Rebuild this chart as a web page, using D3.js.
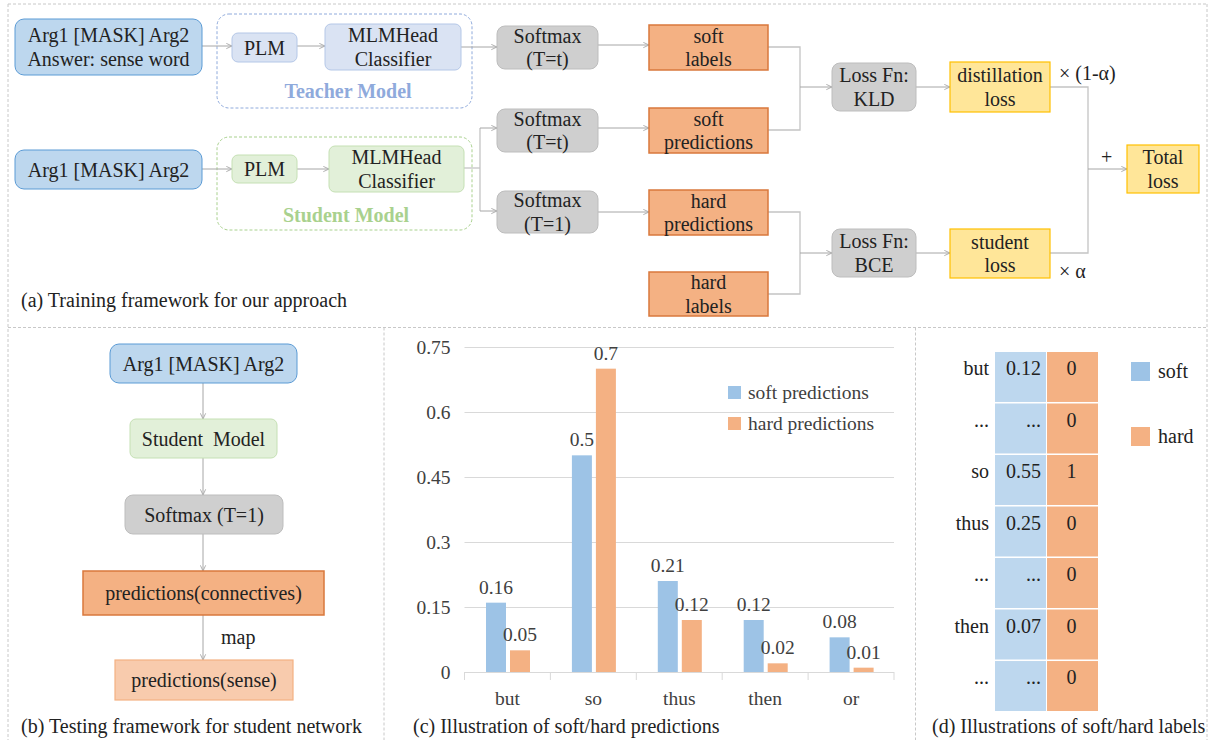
<!DOCTYPE html>
<html>
<head>
<meta charset="utf-8">
<script src="https://cdn.jsdelivr.net/npm/d3@7"></script>
<style>
  body { margin: 0; background: #fff; }
  svg { display: block; font-family: "Liberation Serif", "Times New Roman", serif; }
</style>
</head>
<body>
<svg id="fig"></svg>
<script>
// (c) bar chart data
const categories = ["but", "so", "thus", "then", "or"];
const softPred = [0.16, 0.5, 0.21, 0.12, 0.08];
const hardPred = [0.05, 0.7, 0.12, 0.02, 0.01];
const yTicks = [0, 0.15, 0.3, 0.45, 0.6, 0.75];
const seriesNames = ["soft predictions", "hard predictions"];

// (d) label table
const labelRows = ["but", "...", "so", "thus", "...", "then", "..."];
const softLabelVals = ["0.12", "...", "0.55", "0.25", "...", "0.07", "..."];
const hardLabelVals = ["0", "0", "1", "0", "0", "0", "0"];
const labelLegend = ["soft", "hard"];

// captions
const captions = [
  "(a) Training framework for our approach",
  "(b) Testing framework for student network",
  "(c) Illustration of soft/hard predictions",
  "(d) Illustrations of soft/hard labels"
];

const W = 1210, H = 740;
const txt = "#222";
const fs = 20;

const svg = d3.select("#fig").attr("width", W).attr("height", H);

// 矢印
svg.append("defs").append("marker")
    .attr("id", "arr")
    .attr("viewBox", "0 0 8 8")
    .attr("refX", 7.5).attr("refY", 4)
    .attr("markerWidth", 7).attr("markerHeight", 7)
    .attr("markerUnits", "userSpaceOnUse")
    .attr("orient", "auto")
  .append("path")
    .attr("d", "M1,1 L7.5,4 L1,7")
    .attr("fill", "none")
    .attr("stroke", "#a6a6a6");

// panel borders
const dash = "3,2";
const borders = [
  [8, 4, 1207, 4], [8, 4, 8, 740], [1207, 4, 1207, 740],
  [8, 327.5, 1207, 327.5], [384, 327.5, 384, 740], [915.5, 327.5, 915.5, 740]
];
svg.append("g").selectAll("line").data(borders).enter().append("line")
    .attr("x1", d => d[0]).attr("y1", d => d[1])
    .attr("x2", d => d[2]).attr("y2", d => d[3])
    .attr("stroke", "#c8c8c8").attr("stroke-dasharray", dash);

// box styles
const styles = {
  blue:   {fill: "#bdd7ee", stroke: "#5b9bd5", rx: 9, sw: 1},
  tblue:  {fill: "#dae3f3", stroke: "#b4c7e7", rx: 6, sw: 1},
  green:  {fill: "#e2f0d9", stroke: "#c5e0b4", rx: 6, sw: 1},
  gray:   {fill: "#cfcfcf", stroke: "#bdbdbd", rx: 8, sw: 1},
  orange: {fill: "#f4b183", stroke: "#d9783c", rx: 0, sw: 1.5},
  yellow: {fill: "#ffe699", stroke: "#ffc000", rx: 0, sw: 1.2},
  peach:  {fill: "#f8cbad", stroke: "#f4b183", rx: 0, sw: 1.2}
};

// diagram boxes: [style, x, y, w, h, lines]
const nodes = [
  ["blue", 15, 19, 187, 56, ["Arg1 [MASK] Arg2", "Answer: sense word"]],
  ["tblue", 232, 33, 65, 29, ["PLM"]],
  ["tblue", 325, 24, 136, 46, ["MLMHead", "Classifier"]],
  ["blue", 15, 150, 187, 39, ["Arg1 [MASK] Arg2"]],
  ["green", 232, 155, 65, 28, ["PLM"]],
  ["green", 329, 146, 135, 46, ["MLMHead", "Classifier"]],
  ["gray", 497, 26, 101, 43, ["Softmax", "(T=t)"]],
  ["gray", 497, 109, 101, 43, ["Softmax", "(T=t)"]],
  ["gray", 497, 191, 101, 42, ["Softmax", "(T=1)"]],
  ["orange", 649, 25, 119, 45, ["soft", "labels"]],
  ["orange", 649, 108, 119, 45, ["soft", "predictions"]],
  ["orange", 649, 190, 119, 45, ["hard", "predictions"]],
  ["orange", 649, 272, 119, 44, ["hard", "labels"]],
  ["gray", 832, 63, 84, 48, ["Loss Fn:", "KLD"]],
  ["gray", 832, 229, 84, 48, ["Loss Fn:", "BCE"]],
  ["yellow", 950, 62, 100, 50, ["distillation", "loss"]],
  ["yellow", 950, 229, 100, 49, ["student", "loss"]],
  ["yellow", 1127, 145, 72, 48, ["Total", "loss"]],
  // (b)
  ["blue", 110, 344, 187, 39, ["Arg1 [MASK] Arg2"]],
  ["green", 130, 419, 147, 39, ["Student  Model"]],
  ["gray", 125, 495, 158, 39, ["Softmax (T=1)"]],
  ["orange", 83, 571, 241, 44, ["predictions(connectives)"]],
  ["peach", 115, 660, 178, 40, ["predictions(sense)"]]
];

// dashed model frames
const frames = [
  [217, 14, 255, 94, "#8faadc", "Teacher Model", 348, 91],
  [217, 137, 255, 93, "#a9d18e", "Student Model", 346, 215]
];
const fr = svg.append("g");
frames.forEach(f => {
  fr.append("rect").attr("x", f[0]).attr("y", f[1]).attr("width", f[2]).attr("height", f[3])
    .attr("rx", 12).attr("fill", "none").attr("stroke", f[4]).attr("stroke-dasharray", "3,2");
  fr.append("text").attr("x", f[6]).attr("y", f[7]).attr("text-anchor", "middle")
    .attr("dominant-baseline", "central").attr("font-weight", "bold")
    .attr("font-size", fs).attr("fill", f[4]).text(f[5]);
});

// connector lines (no arrow) and arrows
const plainLines = [
  [[768, 47], [800, 47], [800, 130], [768, 130]],
  [[768, 212], [800, 212], [800, 294], [768, 294]],
  [[1050, 87], [1088, 87], [1088, 253], [1050, 253]],
  [[464, 168], [480, 168]],
  [[480, 128], [480, 211]]
];
const arrows = [
  [[202, 46], [232, 46]], [[297, 46], [325, 46]], [[461, 47], [497, 47]],
  [[598, 45], [649, 45]],
  [[202, 169], [232, 169]], [[297, 169], [329, 169]],
  [[480, 128], [497, 128]], [[480, 211], [497, 211]],
  [[598, 128], [649, 128]], [[598, 212], [649, 212]],
  [[800, 87], [832, 87]], [[800, 253], [832, 253]],
  [[916, 87], [950, 87]], [[916, 253], [950, 253]],
  [[1088, 169], [1127, 169]],
  [[203, 383], [203, 419]], [[203, 458], [203, 495]],
  [[203, 534], [203, 571]], [[203, 615], [203, 660]]
];
const line = d3.line();
svg.append("g").selectAll("path").data(plainLines).enter().append("path")
    .attr("d", line).attr("fill", "none").attr("stroke", "#c4c4c4").attr("stroke-width", 1.3);
svg.append("g").selectAll("path").data(arrows).enter().append("path")
    .attr("d", line).attr("fill", "none").attr("stroke", "#a6a6a6").attr("stroke-width", 1)
    .attr("marker-end", "url(#arr)");

// boxes
const bx = svg.append("g").selectAll("g").data(nodes).enter().append("g");
bx.append("rect")
    .attr("x", d => d[1]).attr("y", d => d[2])
    .attr("width", d => d[3]).attr("height", d => d[4])
    .attr("rx", d => styles[d[0]].rx)
    .attr("fill", d => styles[d[0]].fill)
    .attr("stroke", d => styles[d[0]].stroke)
    .attr("stroke-width", d => styles[d[0]].sw);
bx.each(function(d) {
  const cx = d[1] + d[3] / 2, cy = d[2] + d[4] / 2;
  const n = d[5].length;
  d[5].forEach((s, i) => {
    d3.select(this).append("text")
      .attr("x", cx).attr("y", cy + (i - (n - 1) / 2) * 23.5)
      .attr("text-anchor", "middle").attr("dominant-baseline", "central")
      .attr("font-size", fs).attr("fill", txt)
      .style("white-space", "pre")
      .text(s);
  });
});

// 係数ラベル
const notes = [["\u00d7 (1-\u03b1)", 1059, 73], ["+", 1101, 157], ["\u00d7 \u03b1", 1059, 271], ["map", 221, 637]];
svg.append("g").selectAll("text").data(notes).enter().append("text")
    .attr("x", d => d[1]).attr("y", d => d[2])
    .attr("dominant-baseline", "central")
    .attr("font-size", fs).attr("fill", txt)
    .text(d => d[0]);

// captions
const capPos = [[21, 300], [21, 726], [413, 726], [932, 726]];
svg.append("g").selectAll("text").data(captions).enter().append("text")
    .attr("x", (d, i) => capPos[i][0]).attr("y", (d, i) => capPos[i][1])
    .attr("dominant-baseline", "central")
    .attr("font-size", fs).attr("fill", txt)
    .text(d => d);

// ---- (c) 棒グラフ ----
const chartText = "#404040";
const x = d3.scaleBand().domain(categories).range([464.5, 894]);
const xs = d3.scaleBand().domain(seriesNames).range([21.5, 65.5]).paddingInner(4 / 24);
const y = d3.scaleLinear().domain([0, 0.75]).range([672, 347]);
const barColors = ["#9dc3e6", "#f4b183"];

const chart = svg.append("g");
const yAxis = chart.append("g").attr("transform", "translate(464.5,0)")
    .call(d3.axisLeft(y).tickValues(yTicks).tickSize(-(894 - 464.5)).tickPadding(14).tickFormat(d => String(d)));
yAxis.select(".domain").remove();
yAxis.selectAll("line").attr("stroke", "#d9d9d9");
yAxis.selectAll("text").attr("font-size", 19.5).attr("fill", chartText).attr("font-family", "Liberation Serif");

const xAxis = chart.append("g").attr("transform", "translate(0,672)")
    .call(d3.axisBottom(x).tickSize(0).tickPadding(19));
xAxis.select(".domain").remove();
xAxis.selectAll("text").attr("font-size", 19.5).attr("fill", chartText).attr("font-family", "Liberation Serif");

// category boundary ticks
const bounds = categories.map(c => x(c)).concat([x.range()[1]]);
chart.append("g").selectAll("line").data(bounds).enter().append("line")
    .attr("x1", d => d).attr("x2", d => d).attr("y1", 672).attr("y2", 680)
    .attr("stroke", "#d9d9d9");

const series = [softPred, hardPred];
series.forEach((vals, si) => {
  const g = chart.append("g");
  g.selectAll("rect").data(vals).enter().append("rect")
    .attr("x", (d, i) => x(categories[i]) + xs(seriesNames[si]))
    .attr("y", d => y(d))
    .attr("width", xs.bandwidth())
    .attr("height", d => y(0) - y(d))
    .attr("fill", barColors[si]);
  g.selectAll("text").data(vals).enter().append("text")
    .attr("x", (d, i) => x(categories[i]) + xs(seriesNames[si]) + xs.bandwidth() / 2)
    .attr("y", d => y(d) - 9)
    .attr("text-anchor", "middle")
    .attr("font-size", 19.5).attr("fill", chartText)
    .text(d => String(d));
});

// legend (c)
const lg = chart.append("g").selectAll("g").data(seriesNames).enter().append("g")
    .attr("transform", (d, i) => `translate(728,${386 + i * 31})`);
lg.append("rect").attr("width", 13).attr("height", 13).attr("fill", (d, i) => barColors[i]);
lg.append("text").attr("x", 20).attr("y", 6.5).attr("dominant-baseline", "central")
    .attr("font-size", 19.5).attr("fill", chartText).text(d => d);

// ---- (d) ラベル表 ----
const rowScale = d3.scaleBand().domain(d3.range(labelRows.length)).range([352, 711]).paddingInner(0.03);
const colScale = d3.scaleBand().domain(labelLegend).range([995, 1098]).paddingInner(0.02);
const cellColors = {soft: "#bdd7ee", hard: "#f4b183"};
const tbl = svg.append("g");
labelLegend.forEach(col => {
  tbl.append("g").selectAll("rect").data(labelRows).enter().append("rect")
    .attr("x", colScale(col)).attr("y", (d, i) => rowScale(i))
    .attr("width", colScale.bandwidth()).attr("height", rowScale.bandwidth())
    .attr("fill", cellColors[col]);
});
tbl.append("g").selectAll("text").data(labelRows).enter().append("text")
    .attr("x", 989).attr("y", (d, i) => rowScale(i) + 16)
    .attr("text-anchor", "end").attr("dominant-baseline", "central")
    .attr("font-size", fs).attr("fill", txt).text(d => d);
tbl.append("g").selectAll("text").data(softLabelVals).enter().append("text")
    .attr("x", colScale("soft") + colScale.bandwidth() - 5).attr("y", (d, i) => rowScale(i) + 16)
    .attr("text-anchor", "end").attr("dominant-baseline", "central")
    .attr("font-size", fs).attr("fill", txt).text(d => d);
tbl.append("g").selectAll("text").data(hardLabelVals).enter().append("text")
    .attr("x", colScale("hard") + colScale.bandwidth() / 2 - 1).attr("y", (d, i) => rowScale(i) + 16)
    .attr("text-anchor", "middle").attr("dominant-baseline", "central")
    .attr("font-size", fs).attr("fill", txt).text(d => d);

const lg2 = svg.append("g").selectAll("g").data(labelLegend).enter().append("g")
    .attr("transform", (d, i) => `translate(1131,${362 + i * 65})`);
lg2.append("rect").attr("width", 19).attr("height", 19).attr("fill", (d, i) => barColors[i]);
lg2.append("text").attr("x", 27).attr("y", 8.5).attr("dominant-baseline", "central")
    .attr("font-size", fs).attr("fill", txt).text(d => d);
</script>
</body>
</html>
